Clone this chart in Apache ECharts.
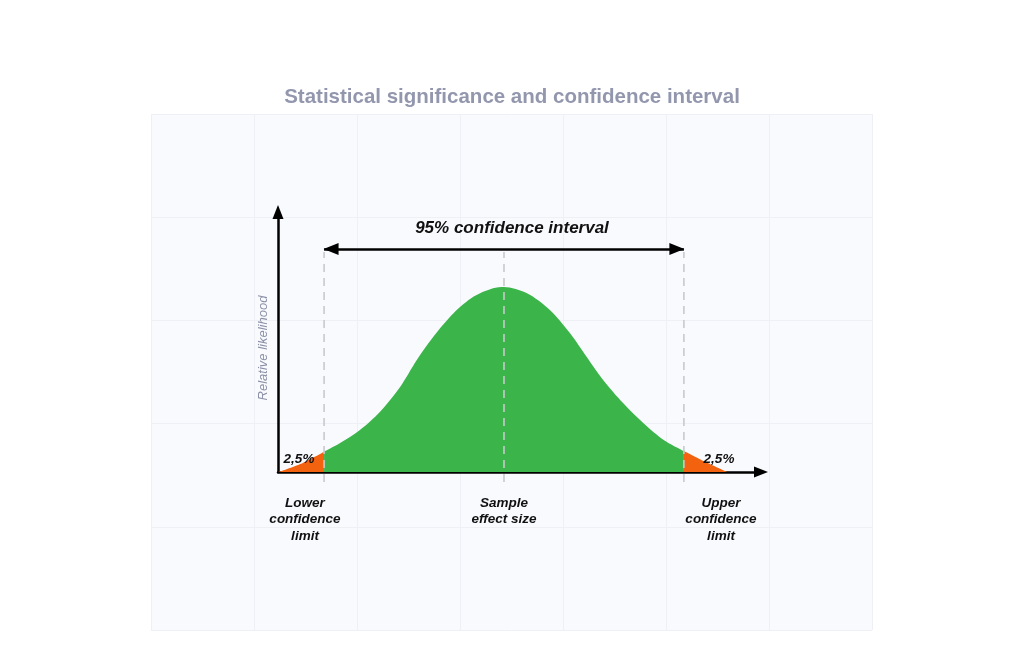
<!DOCTYPE html>
<html>
<head>
<meta charset="utf-8">
<script src="https://cdn.jsdelivr.net/npm/echarts@6/dist/echarts.min.js"></script>
<style>
  html, body { margin: 0; padding: 0; background: #fff; }
  #chart { width: 1024px; height: 666px; }
</style>
</head>
<body>
<div id="chart"></div>
<script>
// effect size (in standard errors from the sample estimate) and relative likelihood
var effectX = [-2.46, -2.21, -1.96, -1.79, -1.57, -1.35, -1.13, -0.95, -0.77, -0.55, -0.33, -0.12, 0,
               0.25, 0.50, 0.72, 0.90, 1.08, 1.30, 1.52, 1.74, 1.96, 2.19, 2.43];
var likelihood = [0, 0.045, 0.11, 0.155, 0.227, 0.326, 0.461, 0.605, 0.731, 0.858, 0.948, 0.993, 1.0,
                  0.966, 0.876, 0.75, 0.623, 0.497, 0.371, 0.263, 0.173, 0.113, 0.055, 0];

var lowerLimit = -1.96;
var upperLimit = 1.96;
var sampleEffect = 0;
var ciLevel = 1.205;   // height of the 95% arrow
var guideLines = [lowerLimit, sampleEffect, upperLimit];

var titleText = 'Statistical significance and confidence interval';
var ciText = '95% confidence interval';
var tailText = '2,5%';
var yName = 'Relative likelihood';
var bottomLabels = ['Lower\nconfidence\nlimit', 'Sample\neffect size', 'Upper\nconfidence\nlimit'];

var GREEN = '#3bb54a';
var ORANGE = '#f2620f';
var FONT = '"Liberation Sans", Arial, sans-serif';

// split curve into tails and middle
function part(lo, hi) {
    var out = [];
    for (var i = 0; i < effectX.length; i++) {
        if (effectX[i] >= lo && effectX[i] <= hi) out.push([effectX[i], likelihood[i]]);
    }
    return out;
}

var chart = echarts.init(document.getElementById('chart'));

var hidden = {
    axisLine: {show: false}, axisTick: {show: false},
    axisLabel: {show: false}, splitLine: {show: false}
};

function areaSeries(data, color) {
    return {
        type: 'line', xAxisIndex: 1, yAxisIndex: 1,
        data: data, smooth: 0.3,
        symbol: 'none', silent: true,
        lineStyle: {width: 0, color: color},
        areaStyle: {color: color, opacity: 1},
        z: 3
    };
}

var guideSeries = guideLines.map(function (x) {
    return {
        type: 'line', xAxisIndex: 2, yAxisIndex: 2,
        data: [[x, 0], [x, 1]], symbol: 'none', silent: true,
        lineStyle: {color: '#c9c9cc', width: 1.6, type: [8, 6]},
        z: 4
    };
});

var option = {
    backgroundColor: '#ffffff',
    animation: false,
    title: {
        text: titleText, left: 'center', top: 82,
        textStyle: {fontFamily: FONT, fontSize: 20.5, fontWeight: 'bold', color: '#9397ae'}
    },
    grid: [
        // background panel
        {left: 151, right: 152, top: 114, bottom: 36, show: true,
         backgroundColor: '#f9fafe', borderWidth: 0},
        // main plot
        {left: 278, right: 263, top: 212, bottom: 194},
        // dashed guides
        {left: 278, right: 263, top: 252, bottom: 184}
    ],
    xAxis: [
        Object.assign({}, hidden, {gridIndex: 0, type: 'value', min: 0, max: 7, interval: 1,
            splitLine: {show: true, lineStyle: {color: '#eef0f5', width: 1}}}),
        {gridIndex: 1, type: 'value', min: -2.462, max: 2.80,
            axisLine: {show: true, onZero: true,
                lineStyle: {color: '#000', width: 2.5},
                symbol: ['none', 'triangle'], symbolSize: [11, 14]},
            axisTick: {show: false}, axisLabel: {show: false}, splitLine: {show: false}},
        Object.assign({}, hidden, {gridIndex: 2, type: 'value', min: -2.462, max: 2.80})
    ],
    yAxis: [
        Object.assign({}, hidden, {gridIndex: 0, type: 'value', min: 0, max: 5, interval: 1,
            splitLine: {show: true, lineStyle: {color: '#eef0f5', width: 1}}}),
        {gridIndex: 1, type: 'value', min: 0, max: 1.405,
            axisLine: {show: true, onZero: false, lineStyle: {color: '#000', width: 2.5},
                symbol: ['none', 'triangle'], symbolSize: [11, 14]},
            axisTick: {show: false}, axisLabel: {show: false}, splitLine: {show: false}},
        Object.assign({}, hidden, {gridIndex: 2, type: 'value', min: 0, max: 1})
    ],
    series: [
        areaSeries(part(-9, lowerLimit), ORANGE),
        areaSeries(part(lowerLimit, upperLimit), GREEN),
        areaSeries(part(upperLimit, 9), ORANGE),
        {
            type: 'line', xAxisIndex: 1, yAxisIndex: 1, data: [], silent: true,
            markLine: {
                silent: true, symbol: ['triangle', 'triangle'], symbolSize: [12, 15],
                symbolOffset: [[0, 7], [0, 7]],
                lineStyle: {color: '#000', width: 2.5, type: 'solid'},
                label: {show: false},
                data: [[{coord: [lowerLimit, ciLevel]}, {coord: [upperLimit, ciLevel]}]]
            },
            z: 6
        }
    ].concat(guideSeries),
    graphic: [
        {type: 'text', left: 'center', top: 220, z: 10,
         style: {text: ciText, font: 'italic bold 17px ' + FONT, fill: '#111', x: 0}},
        {type: 'text', x: 263, y: 348, rotation: Math.PI / 2, z: 10,
         style: {text: yName, font: 'italic 13px ' + FONT, fill: '#8b90a8',
                 textAlign: 'center', textVerticalAlign: 'middle'}},
        {type: 'text', x: 299, y: 459, z: 10,
         style: {text: tailText, font: 'italic bold 13.5px ' + FONT, fill: '#111',
                 textAlign: 'center', textVerticalAlign: 'middle'}},
        {type: 'text', x: 719, y: 459, z: 10,
         style: {text: tailText, font: 'italic bold 13.5px ' + FONT, fill: '#111',
                 textAlign: 'center', textVerticalAlign: 'middle'}},
        {type: 'text', x: 305, y: 495, z: 10,
         style: {text: bottomLabels[0], font: 'italic bold 13.5px ' + FONT, fill: '#111',
                 textAlign: 'center', lineHeight: 16.5}},
        {type: 'text', x: 504, y: 495, z: 10,
         style: {text: bottomLabels[1], font: 'italic bold 13.5px ' + FONT, fill: '#111',
                 textAlign: 'center', lineHeight: 16.5}},
        {type: 'text', x: 721, y: 495, z: 10,
         style: {text: bottomLabels[2], font: 'italic bold 13.5px ' + FONT, fill: '#111',
                 textAlign: 'center', lineHeight: 16.5}}
    ]
};

chart.setOption(option);
</script>
</body>
</html>
